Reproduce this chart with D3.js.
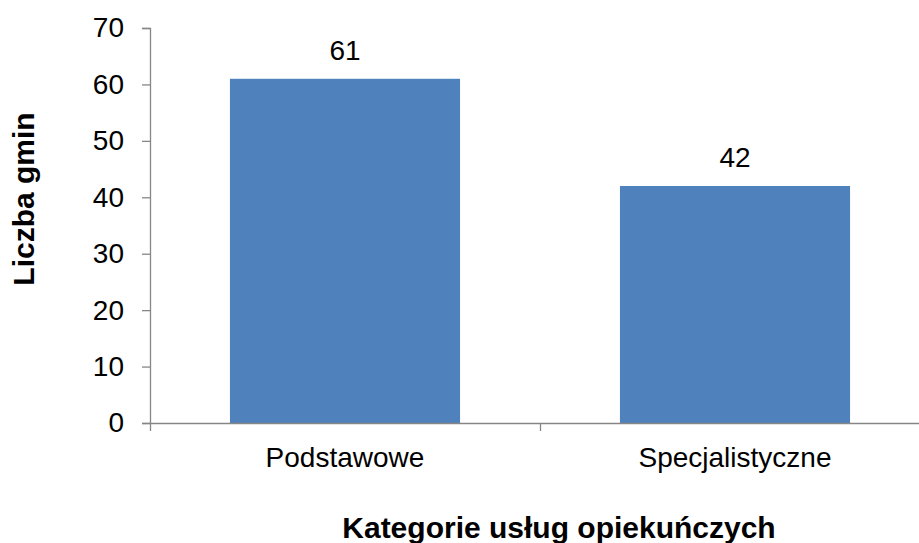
<!DOCTYPE html>
<html>
<head>
<meta charset="utf-8">
<script src="https://cdn.jsdelivr.net/npm/d3@7"></script>
<style>
  html, body { margin: 0; padding: 0; background: #fff; }
  svg { display: block; }
  text { font-family: "Liberation Sans", Arial, sans-serif; fill: #000; }
</style>
</head>
<body>
<svg id="chart" width="919" height="543"></svg>
<script>
const categories = ["Podstawowe", "Specjalistyczne"];
const values = [61, 42];
const yTicks = [0, 10, 20, 30, 40, 50, 60, 70];
const yTitle = "Liczba gmin";
const xTitle = "Kategorie usług opiekuńczych";

(function () {
const svg = d3.select("#chart");
const mLeft = 150, mRight = 930, mTop = 28, mBottom = 423;
const axisColor = "#868686";
const barColor = "#4F81BD";

const x = d3.scaleBand().domain(categories).range([mLeft, mRight])
  .paddingInner(0.41).paddingOuter(0.205);
const xEdges = d3.scaleLinear().domain([0, categories.length]).range([mLeft, mRight]);
const y = d3.scaleLinear().domain([0, 70]).range([mBottom, mTop]);

// bars
svg.append("g").selectAll("rect").data(values).join("rect")
  .attr("x", (d, i) => x(categories[i]))
  .attr("y", d => y(d))
  .attr("width", x.bandwidth())
  .attr("height", d => y(0) - y(d))
  .attr("fill", barColor);

// value labels
svg.append("g").selectAll("text").data(values).join("text")
  .attr("x", (d, i) => x(categories[i]) + x.bandwidth() / 2)
  .attr("y", d => y(d) - 19)
  .attr("text-anchor", "middle")
  .style("font-size", "28px")
  .text(d => d);

// y axis
const yAxis = svg.append("g").attr("transform", `translate(${mLeft},0)`)
  .call(d3.axisLeft(y).tickValues(yTicks).tickSize(8).tickPadding(18));
yAxis.select(".domain").attr("stroke", axisColor).attr("stroke-width", 1.3);
yAxis.selectAll(".tick line").attr("stroke", axisColor).attr("stroke-width", 1.3);
yAxis.selectAll(".tick text").style("font-size", "28px").style("font-family", "Liberation Sans, Arial, sans-serif").attr("fill", "#000");

// x axis
const xAxis = svg.append("g").attr("transform", `translate(0,${mBottom})`)
  .call(d3.axisBottom(xEdges).tickValues(d3.range(categories.length + 1)).tickSize(8).tickSizeOuter(0).tickFormat(""));
xAxis.select(".domain").attr("stroke", axisColor).attr("stroke-width", 1.3);
xAxis.selectAll(".tick line").attr("stroke", axisColor).attr("stroke-width", 1.3);

// category labels
svg.append("g").selectAll("text").data(categories).join("text")
  .attr("x", d => x(d) + x.bandwidth() / 2)
  .attr("y", 467)
  .attr("text-anchor", "middle")
  .style("font-size", "28px")
  .text(d => d);

// axis titles
svg.append("text")
  .attr("transform", "translate(34,199) rotate(-90)")
  .attr("text-anchor", "middle")
  .style("font-size", "30px")
  .style("font-weight", "bold")
  .text(yTitle);

svg.append("text")
  .attr("x", 559).attr("y", 538)
  .attr("text-anchor", "middle")
  .style("font-size", "30px")
  .style("font-weight", "bold")
  .text(xTitle);
})();
</script>
</body>
</html>
